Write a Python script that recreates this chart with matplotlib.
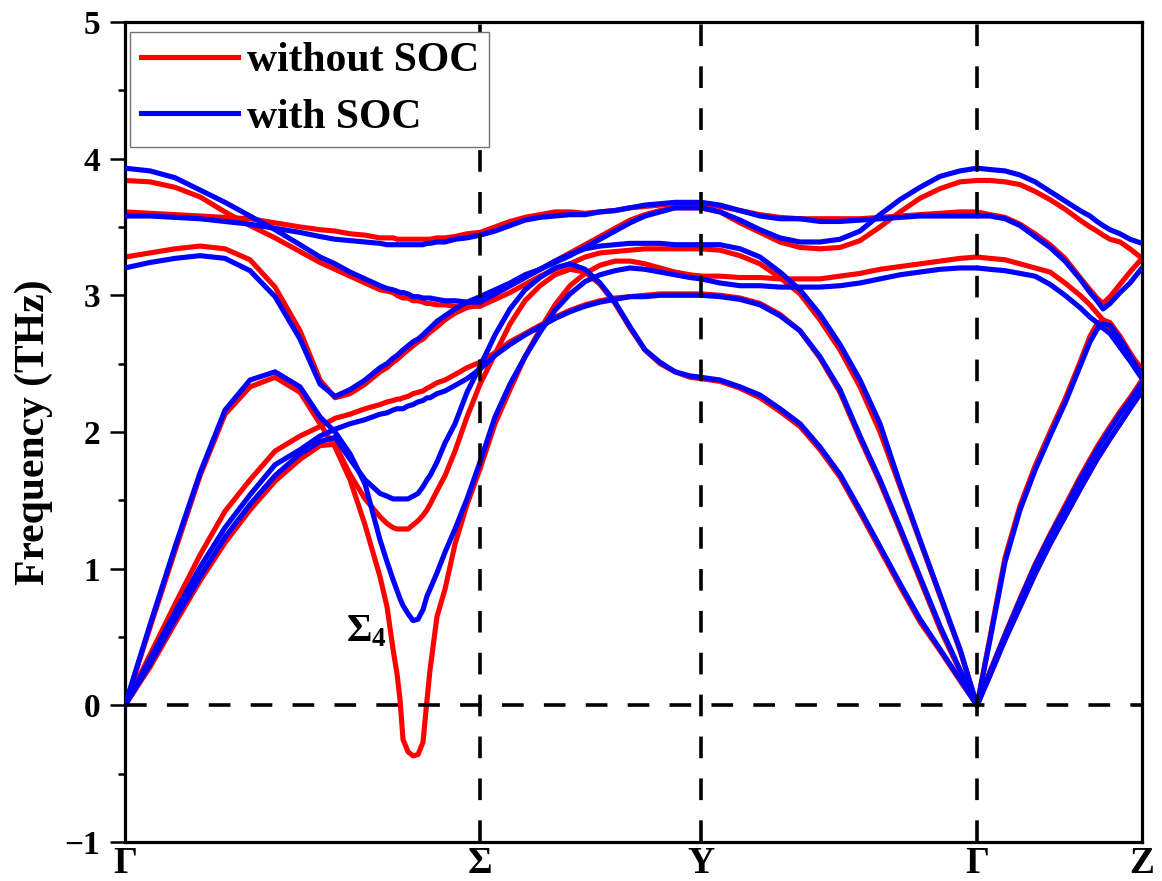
import matplotlib
matplotlib.use('Agg')
import matplotlib.pyplot as plt
from matplotlib.ticker import MultipleLocator

plt.rcParams['font.family'] = ['Liberation Serif', 'DejaVu Serif']
plt.rcParams['font.weight'] = 'bold'
plt.rcParams['mathtext.fontset'] = 'custom'
plt.rcParams['mathtext.rm'] = 'Liberation Serif:bold'
plt.rcParams['mathtext.bf'] = 'Liberation Serif:bold'
plt.rcParams['mathtext.it'] = 'Liberation Serif:bold'

# high symmetry points of the path
sym_k = [0.0, 3.55, 5.76, 8.52, 10.17]
sym_labels = ['Γ', 'Σ', 'Y', 'Γ', 'Z']

# ---- Γ - Σ ----
k_gs = [0, 0.25, 0.50, 0.75, 1.00, 1.25, 1.50, 1.75, 1.95, 2.10, 2.25, 2.40, 2.55, 2.62,
        2.68, 2.72, 2.75, 2.78, 2.83, 2.88, 2.93, 2.98, 3.02, 3.05, 3.12, 3.20, 3.30, 3.42, 3.55]
red_gs = [
    [3.84, 3.83, 3.79, 3.72, 3.61, 3.51, 3.42, 3.32, 3.24, 3.19, 3.14, 3.09, 3.04, 3.03,
     3.02, 3.00, 2.99, 2.98, 2.98, 2.96, 2.96, 2.95, 2.94, 2.94, 2.93, 2.93, 2.92, 2.92, 2.92],
    [3.61, 3.60, 3.59, 3.58, 3.57, 3.56, 3.53, 3.50, 3.48, 3.47, 3.45, 3.44, 3.42, 3.42,
     3.42, 3.41, 3.41, 3.41, 3.41, 3.41, 3.41, 3.41, 3.41, 3.41, 3.42, 3.42, 3.43, 3.45, 3.46],
    [3.28, 3.31, 3.34, 3.36, 3.34, 3.26, 3.06, 2.74, 2.38, 2.25, 2.28, 2.35, 2.44, 2.47,
     2.51, 2.53, 2.55, 2.57, 2.60, 2.63, 2.66, 2.68, 2.71, 2.73, 2.77, 2.82, 2.87, 2.91, 2.93],
    [0.00, 0.57, 1.13, 1.68, 2.13, 2.33, 2.40, 2.29, 2.06, 1.89, 1.65, 1.32, 0.94, 0.72,
     0.41, 0.23, 0.04, -0.25, -0.34, -0.37, -0.36, -0.27, 0.04, 0.26, 0.65, 0.85, 1.18, 1.47, 1.73],
    [0.00, 0.37, 0.74, 1.10, 1.42, 1.65, 1.86, 1.97, 2.04, 2.10, 2.13, 2.17, 2.20, 2.22,
     2.23, 2.24, 2.24, 2.25, 2.26, 2.28, 2.29, 2.30, 2.32, 2.33, 2.36, 2.38, 2.42, 2.47, 2.51],
    [0.00, 0.28, 0.60, 0.91, 1.19, 1.43, 1.64, 1.80, 1.90, 1.91, 1.69, 1.51, 1.38, 1.33,
     1.30, 1.29, 1.29, 1.29, 1.29, 1.32, 1.35, 1.39, 1.43, 1.47, 1.57, 1.68, 1.86, 2.11, 2.35],
]
blue_gs = [
    [3.93, 3.91, 3.86, 3.77, 3.68, 3.58, 3.48, 3.37, 3.28, 3.23, 3.17, 3.12, 3.07, 3.05,
     3.04, 3.03, 3.02, 3.02, 3.01, 2.99, 2.99, 2.98, 2.98, 2.98, 2.97, 2.96, 2.96, 2.95, 2.95],
    [3.58, 3.58, 3.57, 3.56, 3.54, 3.52, 3.49, 3.46, 3.43, 3.41, 3.40, 3.39, 3.38, 3.37,
     3.37, 3.37, 3.37, 3.37, 3.37, 3.37, 3.37, 3.37, 3.38, 3.38, 3.39, 3.39, 3.41, 3.42, 3.44],
    [3.20, 3.24, 3.27, 3.29, 3.27, 3.18, 2.99, 2.68, 2.35, 2.26, 2.31, 2.38, 2.47, 2.50,
     2.54, 2.56, 2.58, 2.60, 2.63, 2.66, 2.68, 2.71, 2.74, 2.76, 2.81, 2.85, 2.90, 2.95, 2.99],
    [0.00, 0.59, 1.16, 1.70, 2.16, 2.38, 2.44, 2.33, 2.11, 2.00, 1.84, 1.62, 1.21, 1.05,
     0.92, 0.84, 0.78, 0.73, 0.67, 0.62, 0.63, 0.70, 0.80, 0.85, 0.97, 1.12, 1.29, 1.51, 1.78],
    [0.00, 0.34, 0.68, 1.01, 1.30, 1.54, 1.76, 1.87, 1.97, 2.02, 2.06, 2.09, 2.13, 2.14,
     2.16, 2.17, 2.17, 2.17, 2.19, 2.20, 2.22, 2.23, 2.25, 2.25, 2.28, 2.30, 2.34, 2.39, 2.46],
    [0.00, 0.30, 0.63, 0.94, 1.23, 1.47, 1.68, 1.84, 1.93, 1.96, 1.80, 1.65, 1.55, 1.53,
     1.51, 1.51, 1.51, 1.51, 1.51, 1.53, 1.55, 1.60, 1.65, 1.68, 1.78, 1.92, 2.06, 2.29, 2.48],
]

# ---- Σ - Y ----
k_sy = [3.55, 3.70, 3.85, 4.00, 4.15, 4.30, 4.45, 4.60, 4.75, 4.90, 5.05, 5.20, 5.35, 5.50, 5.65, 5.76]
red_sy = [
    [3.46, 3.50, 3.54, 3.57, 3.59, 3.61, 3.61, 3.60, 3.61, 3.62, 3.64, 3.65, 3.66, 3.67, 3.67, 3.67],
    [2.93, 3.01, 3.07, 3.13, 3.19, 3.25, 3.31, 3.37, 3.43, 3.49, 3.55, 3.59, 3.62, 3.64, 3.64, 3.64],
    [2.92, 2.97, 3.02, 3.08, 3.14, 3.19, 3.23, 3.28, 3.31, 3.32, 3.33, 3.34, 3.34, 3.34, 3.34, 3.34],
    [2.51, 2.58, 2.66, 2.72, 2.78, 2.84, 2.89, 2.93, 2.96, 2.98, 2.99, 3.00, 3.01, 3.01, 3.01, 3.01],
    [2.35, 2.57, 2.79, 2.96, 3.07, 3.15, 3.19, 3.17, 3.08, 2.94, 2.76, 2.60, 2.50, 2.44, 2.40, 2.39],
    [1.73, 2.06, 2.31, 2.55, 2.75, 2.93, 3.07, 3.16, 3.22, 3.25, 3.25, 3.23, 3.20, 3.17, 3.15, 3.14],
]
blue_sy = [
    [3.44, 3.47, 3.51, 3.55, 3.57, 3.58, 3.59, 3.59, 3.61, 3.62, 3.64, 3.66, 3.67, 3.68, 3.68, 3.68],
    [2.99, 3.04, 3.09, 3.15, 3.19, 3.24, 3.29, 3.35, 3.41, 3.47, 3.53, 3.58, 3.61, 3.64, 3.64, 3.64],
    [2.95, 3.01, 3.07, 3.13, 3.19, 3.25, 3.30, 3.34, 3.36, 3.37, 3.38, 3.38, 3.38, 3.37, 3.37, 3.37],
    [2.46, 2.56, 2.64, 2.71, 2.77, 2.83, 2.88, 2.92, 2.95, 2.97, 2.99, 2.99, 3.00, 3.00, 3.00, 3.00],
    [2.48, 2.71, 2.90, 3.04, 3.13, 3.20, 3.23, 3.19, 3.09, 2.95, 2.77, 2.60, 2.51, 2.44, 2.41, 2.40],
    [1.78, 2.11, 2.35, 2.55, 2.73, 2.89, 3.01, 3.10, 3.15, 3.18, 3.20, 3.19, 3.17, 3.15, 3.13, 3.12],
]

# ---- Y - Γ ----
k_yg = [5.76, 5.95, 6.15, 6.35, 6.55, 6.75, 6.95, 7.15, 7.35, 7.55, 7.75, 7.95, 8.15, 8.35, 8.52]
red_yg = [
    [3.64, 3.61, 3.53, 3.46, 3.39, 3.35, 3.34, 3.35, 3.40, 3.50, 3.61, 3.71, 3.78, 3.83, 3.84],
    [3.67, 3.65, 3.62, 3.59, 3.57, 3.56, 3.56, 3.56, 3.56, 3.57, 3.58, 3.59, 3.60, 3.61, 3.61],
    [3.14, 3.14, 3.13, 3.13, 3.12, 3.12, 3.12, 3.14, 3.16, 3.19, 3.21, 3.23, 3.25, 3.27, 3.28],
    [3.34, 3.33, 3.29, 3.23, 3.13, 3.01, 2.82, 2.60, 2.33, 2.00, 1.60, 1.20, 0.80, 0.40, 0.00],
    [3.01, 3.00, 2.98, 2.94, 2.86, 2.74, 2.54, 2.29, 1.95, 1.63, 1.28, 0.92, 0.56, 0.25, 0.00],
    [2.39, 2.37, 2.32, 2.25, 2.15, 2.04, 1.87, 1.67, 1.41, 1.14, 0.87, 0.61, 0.40, 0.18, 0.00],
]
blue_yg = [
    [3.64, 3.61, 3.55, 3.48, 3.42, 3.39, 3.39, 3.41, 3.47, 3.59, 3.70, 3.79, 3.87, 3.91, 3.93],
    [3.68, 3.66, 3.62, 3.58, 3.56, 3.56, 3.54, 3.54, 3.55, 3.56, 3.57, 3.58, 3.58, 3.58, 3.58],
    [3.12, 3.09, 3.07, 3.07, 3.06, 3.06, 3.06, 3.07, 3.09, 3.12, 3.15, 3.17, 3.19, 3.20, 3.20],
    [3.37, 3.37, 3.34, 3.28, 3.17, 3.04, 2.86, 2.64, 2.38, 2.06, 1.62, 1.21, 0.81, 0.41, 0.00],
    [3.00, 2.99, 2.97, 2.93, 2.85, 2.74, 2.55, 2.31, 1.97, 1.65, 1.30, 0.94, 0.58, 0.26, 0.00],
    [2.40, 2.38, 2.33, 2.27, 2.17, 2.06, 1.89, 1.69, 1.43, 1.16, 0.89, 0.63, 0.41, 0.19, 0.00],
]

# ---- Γ - Z ----
k_gz = [8.52, 8.65, 8.80, 8.95, 9.10, 9.25, 9.40, 9.55, 9.65, 9.72, 9.78, 9.85, 9.95, 10.05, 10.17]
red_gz = [
    [3.84, 3.84, 3.83, 3.81, 3.76, 3.70, 3.63, 3.55, 3.50, 3.47, 3.44, 3.41, 3.39, 3.34, 3.27],
    [3.61, 3.59, 3.57, 3.52, 3.45, 3.37, 3.27, 3.13, 3.04, 2.98, 2.94, 2.99, 3.08, 3.17, 3.27],
    [3.28, 3.27, 3.26, 3.23, 3.20, 3.17, 3.09, 3.00, 2.93, 2.87, 2.82, 2.76, 2.66, 2.57, 2.46],
    [0.00, 0.50, 1.08, 1.46, 1.75, 2.00, 2.24, 2.51, 2.70, 2.79, 2.82, 2.80, 2.70, 2.58, 2.44],
    [0.00, 0.25, 0.52, 0.78, 1.03, 1.25, 1.46, 1.67, 1.80, 1.89, 1.96, 2.04, 2.15, 2.25, 2.38],
    [0.00, 0.22, 0.48, 0.72, 0.96, 1.18, 1.38, 1.58, 1.71, 1.80, 1.87, 1.95, 2.06, 2.17, 2.30],
]
blue_gz = [
    [3.93, 3.92, 3.91, 3.88, 3.83, 3.76, 3.69, 3.62, 3.58, 3.54, 3.51, 3.48, 3.45, 3.41, 3.38],
    [3.58, 3.58, 3.56, 3.51, 3.43, 3.35, 3.25, 3.12, 3.02, 2.96, 2.90, 2.94, 3.02, 3.09, 3.20],
    [3.20, 3.19, 3.18, 3.16, 3.14, 3.08, 3.00, 2.91, 2.84, 2.80, 2.76, 2.72, 2.62, 2.52, 2.39],
    [0.00, 0.48, 1.05, 1.43, 1.72, 1.97, 2.21, 2.48, 2.66, 2.75, 2.79, 2.78, 2.68, 2.56, 2.41],
    [0.00, 0.24, 0.51, 0.77, 1.02, 1.24, 1.44, 1.65, 1.78, 1.87, 1.94, 2.02, 2.13, 2.23, 2.36],
    [0.00, 0.22, 0.48, 0.72, 0.96, 1.18, 1.38, 1.58, 1.71, 1.80, 1.87, 1.95, 2.06, 2.17, 2.30],
]

segments = [(k_gs, red_gs, blue_gs), (k_sy, red_sy, blue_sy),
            (k_yg, red_yg, blue_yg), (k_gz, red_gz, blue_gz)]

fig = plt.figure(figsize=(11.62, 8.81), dpi=100)
ax = fig.add_axes([0.1076, 0.0443, 0.8752, 0.9308])

lw_band = 3.7
#红线先画 蓝线盖在上面
for k, red, blue in segments:
    for f in red:
        ax.plot(k, f, color='#ff0000', lw=lw_band, solid_joinstyle='round', solid_capstyle='round', zorder=2)
for k, red, blue in segments:
    for f in blue:
        ax.plot(k, f, color='#0000ff', lw=lw_band, solid_joinstyle='round', solid_capstyle='round', zorder=3)

# legend handles
h_red, = ax.plot([], [], color='#ff0000', lw=lw_band, label='without SOC')
h_blue, = ax.plot([], [], color='#0000ff', lw=lw_band, label='with SOC')

dash = (0, (6.0, 5.6))
for x in sym_k[1:-1]:
    ax.axvline(x, color='k', lw=2.6, ls=dash, zorder=4)
ax.axhline(0, color='k', lw=2.6, ls=dash, zorder=4)

ax.set_xlim(sym_k[0], sym_k[-1])
ax.set_ylim(-1, 5)
ax.set_xticks(sym_k)
ax.set_xticklabels(sym_labels, fontsize=27, fontweight='bold')
ax.tick_params(axis='x', length=0, pad=3)
ax.set_yticks(range(-1, 6))
ax.yaxis.set_minor_locator(MultipleLocator(0.5))
ax.tick_params(axis='y', which='major', direction='out', length=11, width=1.8, labelsize=24, pad=7)
ax.tick_params(axis='y', which='minor', direction='out', length=5, width=1.8)
for lab in ax.get_yticklabels():
    lab.set_fontweight('bold')
for s in ax.spines.values():
    s.set_linewidth(2.3)

ax.set_ylabel('Frequency (THz)', fontsize=30, fontweight='bold', labelpad=8)

ax.text(2.21, 0.47, r'$\mathbf{\Sigma}_{\mathbf{4}}$', fontsize=28, ha='left', va='baseline', zorder=5)

leg = ax.legend(handles=[h_red, h_blue], loc='upper left', bbox_to_anchor=(0.005, 0.988),
                borderaxespad=0, frameon=True, fancybox=False, framealpha=1,
                prop={'family': 'Liberation Serif', 'weight': 'bold', 'size': 30},
                handlelength=2.33, handletextpad=0.22, borderpad=0.25, labelspacing=0.44)
leg.get_frame().set_edgecolor('0.45')
leg.get_frame().set_linewidth(1.0)
leg.set_zorder(6)

fig.savefig('out.png', dpi=100)
